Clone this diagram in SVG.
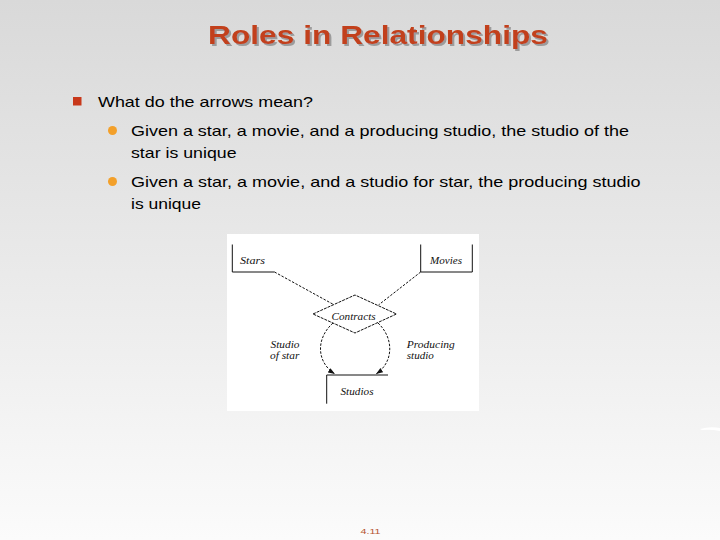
<svg xmlns="http://www.w3.org/2000/svg" width="720" height="540" viewBox="0 0 720 540">
  <defs>
    <linearGradient id="bg" x1="0" y1="0" x2="0" y2="1">
      <stop offset="0" stop-color="#d9d9d9"/>
      <stop offset="0.45" stop-color="#e8e8e8"/>
      <stop offset="1" stop-color="#fbfbfb"/>
    </linearGradient>
    <filter id="shadow" x="-5%" y="-30%" width="110%" height="160%">
      <feOffset in="SourceAlpha" dx="2" dy="2" result="off"/>
      <feFlood flood-color="#9c9c9c"/>
      <feComposite in2="off" operator="in" result="sh"/>
      <feMerge>
        <feMergeNode in="sh"/>
        <feMergeNode in="SourceGraphic"/>
      </feMerge>
    </filter>
    <marker id="arr" markerWidth="8" markerHeight="6" refX="7" refY="3" orient="auto" markerUnits="userSpaceOnUse">
      <path d="M0,0.5 L7,3 L0,5.5 Z" fill="#111"/>
    </marker>
    <style>
      .title{font-family:"Liberation Sans",Arial,sans-serif;font-weight:bold;font-size:26px}
      .body{font-family:"Liberation Sans",Arial,sans-serif;font-size:15px;fill:#000}
      .lbl{font-family:"Liberation Serif","Times New Roman",serif;font-style:italic;font-size:10px;fill:#111}
      .box{fill:none;stroke:#111;stroke-width:1}
      .dash{fill:none;stroke:#111;stroke-width:1;stroke-dasharray:2.5,1.5}
      .diam{fill:#fff;stroke:#111;stroke-width:1;stroke-dasharray:3,1}
    </style>
  </defs>
  <rect x="0" y="0" width="720" height="540" fill="url(#bg)"/>
  <path d="M700,429 Q710,426 720,428 L720,431 Q710,429 702,430 Z" fill="#ffffff"/>

  <g id="title">
    <text class="title" x="208" y="44" fill="#c2401a" filter="url(#shadow)" textLength="340" lengthAdjust="spacingAndGlyphs">Roles in Relationships</text>
  </g>

  <g id="bullets">
    <rect x="73" y="97" width="8.5" height="8.5" fill="#c8381a"/>
    <text class="body" x="98" y="106.5" textLength="215" lengthAdjust="spacingAndGlyphs">What do the arrows mean?</text>
    <circle cx="112.5" cy="130.5" r="4.5" fill="#f3a02a"/>
    <text class="body" x="131" y="135.5" textLength="498" lengthAdjust="spacingAndGlyphs">Given a star, a movie, and a producing studio, the studio of the</text>
    <text class="body" x="131" y="157.5" textLength="105.5" lengthAdjust="spacingAndGlyphs">star is unique</text>
    <circle cx="112.5" cy="181.5" r="4.5" fill="#f3a02a"/>
    <text class="body" x="131" y="186.5" textLength="509.5" lengthAdjust="spacingAndGlyphs">Given a star, a movie, and a studio for star, the producing studio</text>
    <text class="body" x="131" y="208.5" textLength="70" lengthAdjust="spacingAndGlyphs">is unique</text>
  </g>

  <rect id="figure" x="227" y="234" width="252" height="177" fill="#ffffff"/>

  <g id="connectors">
    <path class="dash" d="M274.5,272 L333.5,304.5"/>
    <path class="dash" d="M420.7,272 L378.5,305"/>
    <path class="dash" d="M333,323 C316,338 316,362 335,374" marker-end="url(#arr)"/>
    <path class="dash" d="M378,323 C394,338 394,362 376,374" marker-end="url(#arr)"/>
    <text class="lbl" x="270.5" y="348" textLength="29" lengthAdjust="spacingAndGlyphs">Studio</text>
    <text class="lbl" x="270" y="359" textLength="29.4" lengthAdjust="spacingAndGlyphs">of star</text>
    <text class="lbl" x="406.8" y="348" textLength="48" lengthAdjust="spacingAndGlyphs">Producing</text>
    <text class="lbl" x="406.8" y="359" textLength="27" lengthAdjust="spacingAndGlyphs">studio</text>
  </g>

  <g id="stars">
    <path class="box" d="M232.3,244.5 V272 H274.5"/>
    <text class="lbl" x="240" y="263.5" textLength="25" lengthAdjust="spacingAndGlyphs">Stars</text>
  </g>
  <g id="movies">
    <path class="box" d="M420.7,244.5 V272 H472.3 V244.5"/>
    <text class="lbl" x="430" y="263.5" textLength="32" lengthAdjust="spacingAndGlyphs">Movies</text>
  </g>
  <g id="contracts">
    <path class="diam" d="M313,314 L355,295 L396.5,314 L355,333 Z"/>
    <text class="lbl" x="331.6" y="319.5" textLength="44" lengthAdjust="spacingAndGlyphs">Contracts</text>
  </g>
  <g id="studios">
    <path class="box" d="M326.7,403.7 V375 H388"/>
    <text class="lbl" x="340.5" y="395" textLength="33" lengthAdjust="spacingAndGlyphs">Studios</text>
  </g>

  <text x="360.5" y="533.5" font-family="'Liberation Sans',Arial,sans-serif" font-size="8" fill="#b5532e" textLength="20" lengthAdjust="spacingAndGlyphs">4.11</text>
</svg>
